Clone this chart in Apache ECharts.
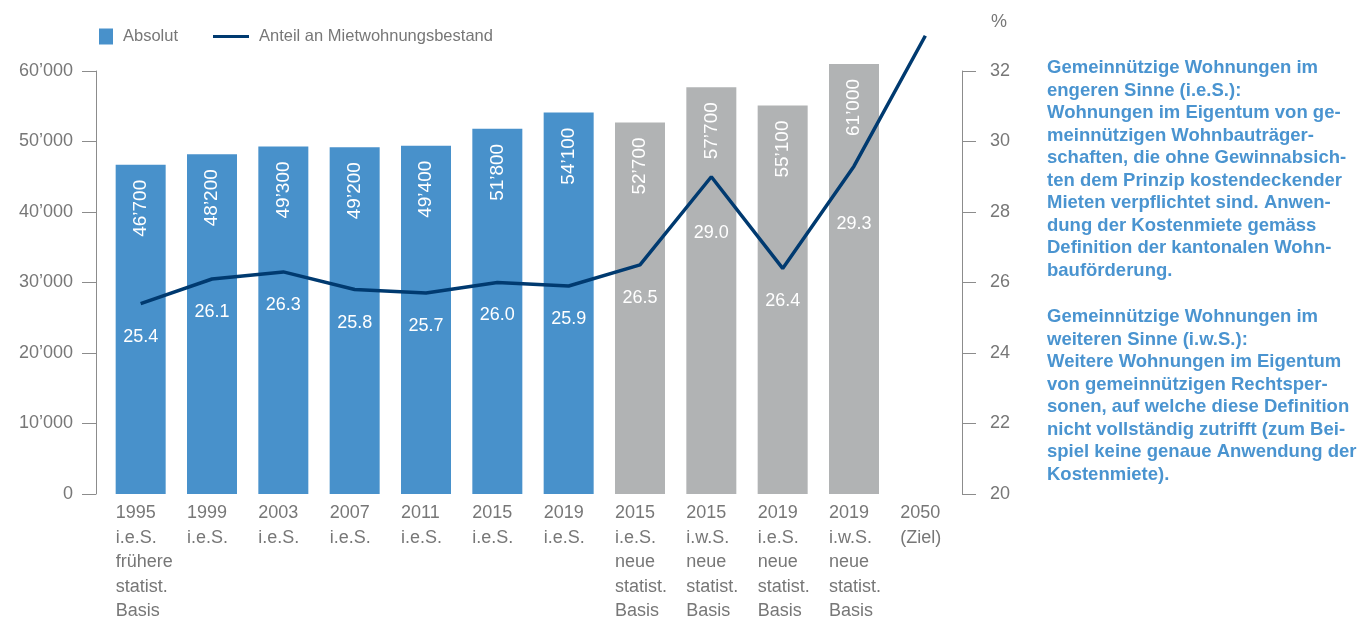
<!DOCTYPE html>
<html>
<head>
<meta charset="utf-8">
<script src="https://cdn.jsdelivr.net/npm/echarts@6/dist/echarts.min.js"></script>
<style>
html, body { margin: 0; padding: 0; background: #fff; }
#chart { width: 1357px; height: 619px; }
</style>
</head>
<body>
<div id="chart"></div>
<script>
// Daten
var categories = [
    '1995\ni.e.S.\nfrühere\nstatist.\nBasis',
    '1999\ni.e.S.',
    '2003\ni.e.S.',
    '2007\ni.e.S.',
    '2011\ni.e.S.',
    '2015\ni.e.S.',
    '2019\ni.e.S.',
    '2015\ni.e.S.\nneue\nstatist.\nBasis',
    '2015\ni.w.S.\nneue\nstatist.\nBasis',
    '2019\ni.e.S.\nneue\nstatist.\nBasis',
    '2019\ni.w.S.\nneue\nstatist.\nBasis',
    '2050\n(Ziel)'
];
var absolut = [46700, 48200, 49300, 49200, 49400, 51800, 54100, 52700, 57700, 55100, 61000, null];
var anteil = [25.4, 26.1, 26.3, 25.8, 25.7, 26.0, 25.9, 26.5, 29.0, 26.4, 29.3, 33.0];
var leftAxis = { min: 0, max: 60000, step: 10000 };
var rightAxis = { min: 20, max: 32, step: 2 };

var legendNames = ['Absolut', 'Anteil an Mietwohnungsbestand'];
var noteEngeren = 'Gemeinnützige Wohnungen im\nengeren Sinne (i.e.S.):\nWohnungen im Eigentum von ge-\nmeinnützigen Wohnbauträger-\nschaften, die ohne Gewinnabsich-\nten dem Prinzip kostendeckender\nMieten verpflichtet sind. Anwen-\ndung der Kostenmiete gemäss\nDefinition der kantonalen Wohn-\nbauförderung.';
var noteWeiteren = 'Gemeinnützige Wohnungen im\nweiteren Sinne (i.w.S.):\nWeitere Wohnungen im Eigentum\nvon gemeinnützigen Rechtsper-\nsonen, auf welche diese Definition\nnicht vollständig zutrifft (zum Bei-\nspiel keine genaue Anwendung der\nKostenmiete).';

// Stil
var BLUE = '#4891cb';
var GRAY = '#b1b3b4';
var NAVY = '#003a70';
var TEXT = '#777777';
var AXIS = '#8c8c8c';
var NOTE = '#4a94d0';
var FONT = '"Liberation Sans", Arial, Helvetica, sans-serif';
// Abstand der Anteil-Beschriftung unter dem Punkt (Spitzen etwas tiefer)
var lineLabelGap = { 8: 47, 10: 49 };

function tsep(v) {
    return String(v).replace(/\B(?=(\d{3})+(?!\d))/g, '\u2019');
}

var lineData = anteil.map(function (v, i) {
    var item = { value: v };
    if (i === anteil.length - 1) {
        item.label = { show: false };
    } else if (lineLabelGap[i]) {
        item.label = { distance: lineLabelGap[i] };
    }
    return item;
});

var option = {
    animation: false,
    textStyle: { fontFamily: FONT },
    legend: [{
        data: [{ name: legendNames[0], icon: 'rect', itemStyle: { color: BLUE } }],
        left: 99, top: 28, padding: 0,
        itemWidth: 14, itemHeight: 16,
        selectedMode: false,
        textStyle: { fontSize: 16.5, color: TEXT, padding: [2, 0, 0, 5] }
    }, {
        data: [{ name: legendNames[1], icon: 'rect' }],
        left: 213, top: 28, padding: 0,
        itemWidth: 36, itemHeight: 3,
        selectedMode: false,
        textStyle: { fontSize: 16.5, color: TEXT, padding: [2, 0, 0, 5] }
    }],
    grid: { left: 105, right: 396, top: 71, bottom: 125, containLabel: false, outerBoundsMode: 'none' },
    xAxis: {
        type: 'category',
        data: categories,
        axisLine: { show: false },
        axisTick: { show: false },
        axisLabel: {
            interval: 0,
            margin: 7,
            color: TEXT,
            fontSize: 18,
            lineHeight: 24.5,
            align: 'center',
            verticalAlign: 'top',
            hideOverlap: false,
            formatter: function (v) {
                return v.split('\n').map(function (l) { return '{a|' + l + '}'; }).join('\n');
            },
            rich: { a: { width: 50, align: 'left', fontSize: 18, lineHeight: 24.5, color: TEXT } }
        }
    },
    yAxis: [{
        type: 'value',
        min: leftAxis.min, max: leftAxis.max, interval: leftAxis.step,
        position: 'left',
        offset: 9,
        axisLine: { show: true, lineStyle: { color: AXIS, width: 1 } },
        axisTick: { show: true, length: 14, lineStyle: { color: AXIS } },
        splitLine: { show: false },
        axisLabel: { margin: 23, color: TEXT, fontSize: 18, formatter: tsep }
    }, {
        type: 'value',
        min: rightAxis.min, max: rightAxis.max, interval: rightAxis.step,
        position: 'right',
        offset: 1,
        axisLine: { show: true, lineStyle: { color: AXIS, width: 1 } },
        axisTick: { show: true, length: 14, lineStyle: { color: AXIS } },
        splitLine: { show: false },
        axisLabel: { margin: 28, color: TEXT, fontSize: 18 }
    }],
    series: [{
        name: legendNames[0],
        type: 'bar',
        yAxisIndex: 0,
        barWidth: 50,
        clip: false,
        data: absolut,
        itemStyle: {
            color: function (p) { return p.dataIndex < 7 ? BLUE : GRAY; }
        },
        label: {
            show: true,
            position: 'insideTop',
            rotate: 90,
            align: 'right',
            verticalAlign: 'middle',
            distance: 15,
            color: '#fff',
            fontSize: 19,
            formatter: function (p) { return tsep(p.value); }
        },
        z: 2
    }, {
        name: legendNames[1],
        type: 'line',
        yAxisIndex: 1,
        data: lineData,
        clip: false,
        symbol: 'circle',
        symbolSize: 0,
        showSymbol: true,
        lineStyle: { color: NAVY, width: 3.5 },
        itemStyle: { color: NAVY },
        label: {
            show: true,
            position: 'bottom',
            distance: 24,
            color: '#fff',
            fontSize: 18,
            formatter: function (p) { return p.value.toFixed(1); }
        },
        labelLayout: { hideOverlap: false },
        z: 3
    }],
    graphic: [{
        type: 'text', left: 991, top: 13,
        style: { text: '%', fontSize: 18, fill: TEXT, fontFamily: FONT }
    }, {
        type: 'text', left: 1047, top: 57,
        style: { text: noteEngeren, fontSize: 18.5, fontWeight: 'bold', lineHeight: 22.5, fill: NOTE, fontFamily: FONT }
    }, {
        type: 'text', left: 1047, top: 306,
        style: { text: noteWeiteren, fontSize: 18.5, fontWeight: 'bold', lineHeight: 22.5, fill: NOTE, fontFamily: FONT }
    }]
};

var chart = echarts.init(document.getElementById('chart'), null, { renderer: 'canvas' });
chart.setOption(option);
</script>
</body>
</html>
